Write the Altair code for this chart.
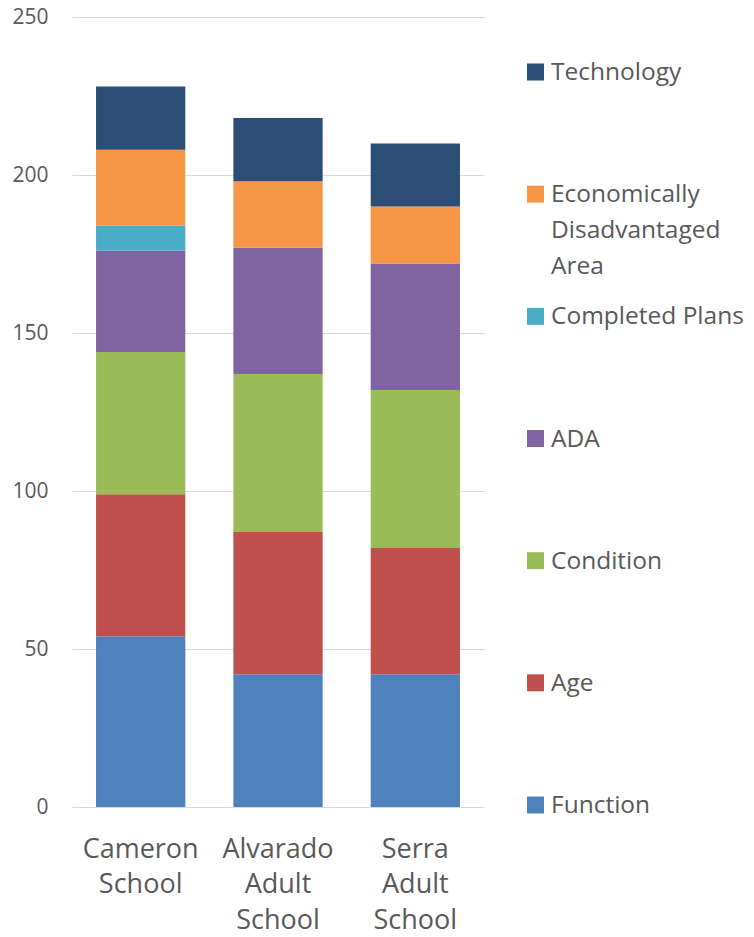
import altair as alt
import pandas as pd

schools = ["Cameron School", "Alvarado Adult School", "Serra Adult School"]
categories = ["Function", "Age", "Condition", "ADA", "Completed Plans",
              "Economically Disadvantaged Area", "Technology"]
legend_labels = ["Function", "Age", "Condition", "ADA", "Completed Plans",
                 "Economically\nDisadvantaged\nArea", "Technology"]
colors = ["#4F81BD", "#C0504D", "#9BBB59", "#8064A2", "#4BACC6", "#F79646", "#2C4D75"]

function_vals = [54, 42, 42]
age_vals = [45, 45, 40]
condition_vals = [45, 50, 50]
ada_vals = [32, 40, 40]
completed_vals = [8, 0, 0]
econ_vals = [24, 21, 18]
technology_vals = [20, 20, 20]

series = [function_vals, age_vals, condition_vals, ada_vals,
          completed_vals, econ_vals, technology_vals]

rows = []
for idx, (cat, vals) in enumerate(zip(categories, series)):
    for school, v in zip(schools, vals):
        rows.append({"school": school, "category": cat, "value": v, "idx": idx})
df = pd.DataFrame(rows)

TEXT = "#595959"
FONT = "Open Sans"

color_scale = alt.Scale(domain=categories, range=colors)

bars = alt.Chart(df).mark_bar().encode(
    x=alt.X("school:N", sort=schools,
            scale=alt.Scale(paddingInner=0.35, paddingOuter=0.175),
            axis=alt.Axis(title=None, labelExpr="split(datum.label, ' ')",
                          labelAngle=0, labelFontSize=27, labelColor=TEXT,
                          labelFont=FONT, labelPadding=29, labelLineHeight=35.5,
                          domain=False, ticks=False, grid=False)),
    y=alt.Y("value:Q", stack="zero", scale=alt.Scale(domain=[0, 250]),
            axis=alt.Axis(title=None, values=[0, 50, 100, 150, 200, 250],
                          domain=False, ticks=False, gridColor="#D9D9D9",
                          gridWidth=1, labelFontSize=21, labelColor=TEXT,
                          labelFont=FONT, labelPadding=24)),
    color=alt.Color("category:N", scale=color_scale, legend=None),
    order=alt.Order("idx:Q", sort="ascending"),
)

legend_order = categories[::-1]
leg_df = pd.DataFrame({"category": categories, "label": legend_labels})

leg_base = alt.Chart(leg_df).encode(
    y=alt.Y("category:N", sort=legend_order,
            scale=alt.Scale(domain=legend_order, range=[55, 788], padding=0),
            axis=None)
)
squares = leg_base.mark_square(size=289, opacity=1).encode(
    x=alt.value(463.5),
    color=alt.Color("category:N", scale=color_scale, legend=None),
)
texts = leg_base.mark_text(align="left", baseline="top", dy=-11, fontSize=24.5,
                           font=FONT, color=TEXT, lineBreak="\n",
                           lineHeight=36).encode(
    x=alt.value(479),
    text="label:N",
)

chart = alt.layer(bars, squares, texts).resolve_scale(y="independent").properties(
    width=412, height=790,
    autosize=alt.AutoSizeParams(type="none"),
    padding={"left": 64, "top": 9, "right": 262, "bottom": 122},
).configure_view(stroke=None)

chart.save("out.html", embed_options={"renderer": "svg", "actions": False})
